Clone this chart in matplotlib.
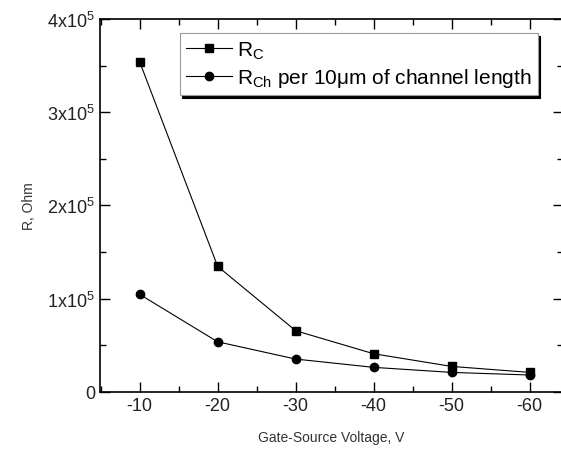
import numpy as np
import matplotlib
matplotlib.use('Agg')
import matplotlib.pyplot as plt
from matplotlib.ticker import MultipleLocator, FuncFormatter

plt.rcParams['font.family'] = ['Liberation Sans', 'DejaVu Sans']
plt.rcParams['mathtext.fontset'] = 'custom'
plt.rcParams['mathtext.rm'] = 'Liberation Sans'
plt.rcParams['mathtext.it'] = 'Liberation Sans'

# gate-source voltage, V
vgs = [-10, -20, -30, -40, -50, -60]
# resistances, Ohm
r_c = [3.54e5, 1.345e5, 0.655e5, 0.408e5, 0.272e5, 0.208e5]
r_ch = [1.045e5, 0.536e5, 0.351e5, 0.262e5, 0.208e5, 0.18e5]

label_c = r'R$_\mathregular{C}$'
label_ch = r'R$_\mathregular{Ch}$ per 10μm of channel length'

fig = plt.figure(figsize=(5.61, 4.52), dpi=100)
ax = fig.add_axes([0.178, 0.131, 0.826, 0.825])

ax.plot(vgs, r_c, color='k', lw=0.8, marker='s', ms=6, label=label_c)
ax.plot(vgs, r_ch, color='k', lw=0.8, marker='o', ms=6, label=label_ch)

ax.set_xlim(-4.9, -64.3)
ax.set_ylim(0, 4e5)
ax.xaxis.set_major_locator(MultipleLocator(10))
ax.xaxis.set_minor_locator(MultipleLocator(5))
ax.yaxis.set_major_locator(MultipleLocator(1e5))
ax.yaxis.set_minor_locator(MultipleLocator(0.5e5))

def yfmt(v, pos):
    if v == 0:
        return '0'
    return r'$\mathregular{%dx10^5}$' % round(v / 1e5)

ax.yaxis.set_major_formatter(FuncFormatter(yfmt))
ax.xaxis.set_major_formatter(FuncFormatter(lambda v, p: '%d' % v))

ax.tick_params(which='both', direction='in', top=True, right=True,
               labelsize=13, labelcolor='#222222', width=1)
ax.tick_params(which='major', length=7)
ax.tick_params(which='minor', length=4)
for s in ax.spines.values():
    s.set_linewidth(1.2)
ax.spines['right'].set_visible(False)

ax.set_xlabel('Gate-Source Voltage, V', fontsize=10, color='#333333', labelpad=12)
ax.set_ylabel('R, Ohm', fontsize=10, color='#333333', labelpad=8)

leg = ax.legend(loc='upper left', bbox_to_anchor=(0.172, 0.962), borderaxespad=0,
                fontsize=15, handlelength=2.2, handletextpad=0.25, labelspacing=0.25,
                borderpad=0.3, fancybox=False, framealpha=1,
                shadow={'color': 'k', 'alpha': 1})
leg.get_frame().set_edgecolor('#999999')
leg.get_frame().set_linewidth(0.8)

fig.savefig('out.png', dpi=100)
